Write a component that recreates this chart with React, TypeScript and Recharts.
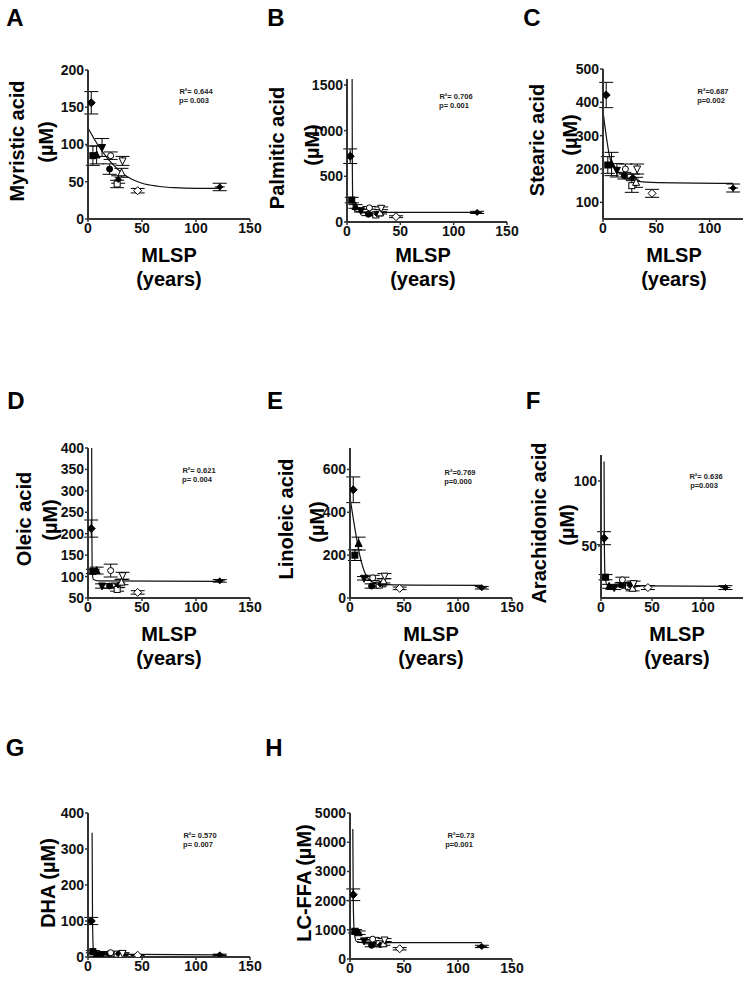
import React from 'react';
import { ComposedChart, Scatter, Line, XAxis, YAxis, ErrorBar } from 'recharts';

// MLSP (years) of the 12 species, one marker style each
const mlsp = [3, 4.5, 8, 13, 20, 21, 27, 28, 31, 32, 46, 122];
const markers = [
  'diamond', 'square', 'triangle', 'invTriangle', 'circle', 'openCircle',
  'openSquare', 'smallDiamond', 'openTriangle', 'openInvTriangle', 'openDiamond', 'cross',
];
const xTicks = [0, 50, 100, 150];
const xTicksCut = [0, 50, 100];

// plasma free fatty acids (µM), mean and error
const myristic = [156, 85, 86, 96, 67, 85, 47, 53, 62, 78, 38, 43];
const myristicSd = [15, 13, 12, 12, 7, 5, 5, 5, 6, 6, 3, 5];
const palmitic = [720, 240, 170, 124, 85, 155, 77, 90, 100, 150, 58, 105];
const palmiticSd = [80, 30, 20, 15, 15, 15, 10, 10, 12, 15, 10, 12];
const stearic = [422, 212, 215, 196, 180, 200, 150, 175, 160, 200, 127, 143];
const stearicSd = [38, 25, 35, 20, 10, 15, 20, 10, 15, 15, 12, 12];
const oleic = [212, 112, 114, 78, 78, 114, 70, 80, 87, 102, 63, 90];
const oleicSd = [20, 5, 8, 5, 5, 15, 4, 5, 6, 8, 4, 3];
const linoleic = [505, 200, 254, 92, 56, 94, 60, 65, 80, 102, 45, 48];
const linoleicSd = [60, 25, 30, 8, 10, 12, 8, 8, 10, 12, 6, 6];
const arachidonic = [56, 26, 19, 18, 20, 24, 19, 20, 17.5, 21, 18, 18];
const arachidonicSd = [5, 2, 1.5, 1.5, 1.5, 2, 1.5, 1.5, 2, 2, 1.5, 1.5];
const dha = [100, 15, 8, 7, 10, 12, 8, 9, 6, 10, 5, 6];
const dhaSd = [10, 3, 2, 2, 2, 3, 2, 2, 2, 2, 1, 2];
const lcffa = [2200, 950, 900, 620, 470, 680, 520, 480, 520, 650, 350, 430];
const lcffaSd = [200, 60, 60, 50, 50, 60, 40, 40, 50, 50, 40, 40];

// fitted decay curves
const myristicFitX = [0, 8, 20, 35, 50, 65, 80, 100, 122];
const myristicFitY = [122, 102, 78, 58, 48, 44, 42, 41, 41];
const palmiticFitX = [4.8, 5, 5.5, 7, 12, 30, 122];
const palmiticFitY = [1565, 600, 200, 125, 108, 105, 105];
const stearicFitX = [0.5, 3, 6, 10, 20, 30, 45, 122];
const stearicFitY = [360, 300, 240, 205, 180, 165, 160, 157];
const oleicFitX = [3.4, 3.6, 4, 5, 10, 122];
const oleicFitY = [400, 200, 110, 93, 90, 89];
const linoleicFitX = [0, 5, 9, 15, 22, 35, 60, 122];
const linoleicFitY = [470, 310, 200, 105, 72, 62, 60, 59];
const arachidonicFitX = [3, 3.3, 4, 6, 10, 122];
const arachidonicFitY = [115, 50, 27, 20, 19.5, 19];
const dhaFitX = [3.8, 4.2, 5, 8, 122];
const dhaFitY = [345, 100, 20, 8, 6];
const lcffaFitX = [2.6, 3, 4, 6, 12, 122];
const lcffaFitY = [4450, 2000, 900, 600, 560, 560];

const FONT = '"Liberation Sans", Arial, sans-serif';
const AXIS = '#333';

const drawMarker = (kind: string) => (props: any) => {
  const { cx, cy } = props;
  if (cx == null || cy == null) return <g />;
  const r = 3;
  const open = kind.startsWith('open');
  const st = { fill: open ? '#fff' : '#000', stroke: '#000', strokeWidth: 1 };
  switch (kind) {
    case 'square':
    case 'openSquare':
      return <rect x={cx - r} y={cy - r} width={2 * r} height={2 * r} {...st} />;
    case 'triangle':
    case 'openTriangle':
      return <polygon points={`${cx},${cy - r - 1} ${cx + r + 0.5},${cy + r} ${cx - r - 0.5},${cy + r}`} {...st} />;
    case 'invTriangle':
    case 'openInvTriangle':
      return <polygon points={`${cx},${cy + r + 1} ${cx + r + 0.5},${cy - r} ${cx - r - 0.5},${cy - r}`} {...st} />;
    case 'circle':
    case 'openCircle':
      return <circle cx={cx} cy={cy} r={r} {...st} />;
    case 'smallDiamond':
      return <polygon points={`${cx},${cy - 3} ${cx + 3},${cy} ${cx},${cy + 3} ${cx - 3},${cy}`} {...st} />;
    case 'cross':
      return (
        <g>
          <polygon points={`${cx},${cy - 3} ${cx + 3},${cy} ${cx},${cy + 3} ${cx - 3},${cy}`} {...st} />
          <line x1={cx - 5} y1={cy} x2={cx + 5} y2={cy} stroke="#000" strokeWidth={1} />
        </g>
      );
    default:
      return <polygon points={`${cx},${cy - r - 1} ${cx + r + 1},${cy} ${cx},${cy + r + 1} ${cx - r - 1},${cy}`} {...st} />;
  }
};

interface PanelProps {
  x: number; y: number; w: number; h: number;
  domain: [number, number];
  ticks: number[];
  xt?: number[];
  values: number[];
  sds: number[];
  fitX: number[];
  fitY: number[];
}

const YW = 45;
const RM = 22;

const Panel: React.FC<PanelProps> = ({ x, y, w, h, domain, ticks, xt = xTicks, values, sds, fitX, fitY }) => {
  const fit = fitX.map((fx, i) => ({ x: fx, y: fitY[i] }));
  const tick = { fontSize: 14, fontWeight: 700, fill: '#111', fontFamily: FONT };
  return (
    <div style={{ position: 'absolute', left: x - YW, top: y - 10 }}>
      <ComposedChart width={YW + w + RM} height={10 + h + 30} margin={{ top: 10, right: RM, bottom: 0, left: 0 }}>
        <XAxis
          type="number" dataKey="x" domain={[0, 150]} ticks={xt} allowDataOverflow interval={0}
          height={30} tickSize={3} tickMargin={1} tick={tick}
          axisLine={{ stroke: AXIS, strokeWidth: 2 }} tickLine={{ stroke: AXIS, strokeWidth: 1.5 }}
        />
        <YAxis
          type="number" domain={domain} ticks={ticks} allowDataOverflow interval={0}
          width={YW} tickSize={3} tickMargin={1} tick={tick}
          axisLine={{ stroke: AXIS, strokeWidth: 2 }} tickLine={{ stroke: AXIS, strokeWidth: 1.5 }}
        />
        <Line data={fit} dataKey="y" type="monotone" dot={false} stroke="#111" strokeWidth={1.2} isAnimationActive={false} />
        {mlsp.map((mx, i) => (
          <Scatter
            key={i}
            name={`s${i}`}
            data={[{ x: mx, y: values[i], sd: sds[i] }]}
            dataKey="y"
            shape={drawMarker(markers[i])}
            isAnimationActive={false}
          >
            <ErrorBar dataKey="sd" direction="y" width={7} stroke="#000" strokeWidth={1} />
          </Scatter>
        ))}
      </ComposedChart>
    </div>
  );
};

const letters = [
  { t: 'A', x: 15, y: 17 }, { t: 'B', x: 276, y: 17 }, { t: 'C', x: 532, y: 17 },
  { t: 'D', x: 16, y: 400 }, { t: 'E', x: 275, y: 400 }, { t: 'F', x: 533, y: 400 },
  { t: 'G', x: 15, y: 747 }, { t: 'H', x: 274, y: 747 },
];

const yTitles = [
  { t: 'Myristic acid', x: 17, y: 141 }, { t: '(µM)', x: 46, y: 142 },
  { t: 'Palmitic acid', x: 277, y: 148 }, { t: '(µM)', x: 312, y: 145 },
  { t: 'Stearic acid', x: 537, y: 140 }, { t: '(µM)', x: 570, y: 135 },
  { t: 'Oleic acid', x: 24, y: 519 }, { t: '(µM)', x: 50, y: 520 },
  { t: 'Linoleic acid', x: 286, y: 519 }, { t: '(µM)', x: 317, y: 522 },
  { t: 'Arachidonic acid', x: 539, y: 523 }, { t: '(µM)', x: 567, y: 525 },
  { t: 'DHA (µM)', x: 48, y: 883 }, { t: 'LC-FFA (µM)', x: 304, y: 883 },
];

const xTitles = [
  { x: 169, y: 255 }, { x: 423, y: 255 }, { x: 674, y: 255 },
  { x: 169, y: 634 }, { x: 431, y: 634 }, { x: 677, y: 634 },
];

const stats = [
  { r: 'R²= 0.644', p: 'p= 0.003', x: 196, y: 91 },
  { r: 'R²= 0.706', p: 'p= 0.001', x: 456, y: 96 },
  { r: 'R²=0.687', p: 'p=0.002', x: 713, y: 91 },
  { r: 'R²= 0.621', p: 'p= 0.004', x: 199, y: 470 },
  { r: 'R²=0.769', p: 'p=0.000', x: 460, y: 472 },
  { r: 'R²= 0.636', p: 'p=0.003', x: 706, y: 476 },
  { r: 'R²= 0.570', p: 'p= 0.007', x: 200, y: 835 },
  { r: 'R²=0.73', p: 'p=0.001', x: 461, y: 835 },
];

export default function App() {
  return (
    <div style={{ position: 'absolute', left: 0, top: 0, width: 743, height: 983, overflow: 'hidden', background: '#fff', fontFamily: FONT }}>
      <Panel x={88} y={70} w={162} h={149} domain={[0, 200]} ticks={[0, 50, 100, 150, 200]}
        values={myristic} sds={myristicSd} fitX={myristicFitX} fitY={myristicFitY} />
      <Panel x={347} y={79} w={160} h={143} domain={[0, 1565]} ticks={[0, 500, 1000, 1500]}
        values={palmitic} sds={palmiticSd} fitX={palmiticFitX} fitY={palmiticFitY} />
      <Panel x={603} y={69} w={160} h={150} domain={[50, 500]} ticks={[100, 200, 300, 400, 500]} xt={xTicksCut}
        values={stearic} sds={stearicSd} fitX={stearicFitX} fitY={stearicFitY} />
      <Panel x={88} y={448} w={162} h={150} domain={[50, 400]} ticks={[50, 100, 150, 200, 250, 300, 350, 400]}
        values={oleic} sds={oleicSd} fitX={oleicFitX} fitY={oleicFitY} />
      <Panel x={350} y={448} w={162} h={150} domain={[0, 700]} ticks={[0, 200, 400, 600]}
        values={linoleic} sds={linoleicSd} fitX={linoleicFitX} fitY={linoleicFitY} />
      <Panel x={601} y={455} w={153} h={143} domain={[10, 120]} ticks={[50, 100]} xt={xTicksCut}
        values={arachidonic} sds={arachidonicSd} fitX={arachidonicFitX} fitY={arachidonicFitY} />
      <Panel x={88} y={813} w={162} h={144} domain={[0, 400]} ticks={[0, 100, 200, 300, 400]}
        values={dha} sds={dhaSd} fitX={dhaFitX} fitY={dhaFitY} />
      <Panel x={350} y={813} w={162} h={146} domain={[0, 5000]} ticks={[0, 1000, 2000, 3000, 4000, 5000]}
        values={lcffa} sds={lcffaSd} fitX={lcffaFitX} fitY={lcffaFitY} />

      <svg width={743} height={983} style={{ position: 'absolute', left: 0, top: 0, pointerEvents: 'none' }}>
        {letters.map((l) => (
          <text key={l.t} x={l.x} y={l.y} textAnchor="middle" dominantBaseline="central"
            fontSize={24} fontWeight={700} fontFamily={FONT} fill="#000">{l.t}</text>
        ))}
        {yTitles.map((l, i) => (
          <text key={i} transform={`translate(${l.x},${l.y}) rotate(-90)`} textAnchor="middle" dominantBaseline="central"
            fontSize={20} fontWeight={700} fontFamily={FONT} fill="#000">{l.t}</text>
        ))}
        {xTitles.map((l, i) => (
          <g key={i}>
            <text x={l.x} y={l.y} textAnchor="middle" dominantBaseline="central"
              fontSize={20} fontWeight={700} fontFamily={FONT} fill="#000">MLSP</text>
            <text x={l.x} y={l.y + 24} textAnchor="middle" dominantBaseline="central"
              fontSize={20} fontWeight={700} fontFamily={FONT} fill="#000">(years)</text>
          </g>
        ))}
        {stats.map((s, i) => (
          <g key={i}>
            <text x={s.x} y={s.y} textAnchor="middle" dominantBaseline="central"
              fontSize={7.5} fontWeight={700} fontFamily={FONT} fill="#222">{s.r}</text>
            <text x={s.x - 2} y={s.y + 9} textAnchor="middle" dominantBaseline="central"
              fontSize={7.5} fontWeight={700} fontFamily={FONT} fill="#222">{s.p}</text>
          </g>
        ))}
      </svg>
    </div>
  );
}
